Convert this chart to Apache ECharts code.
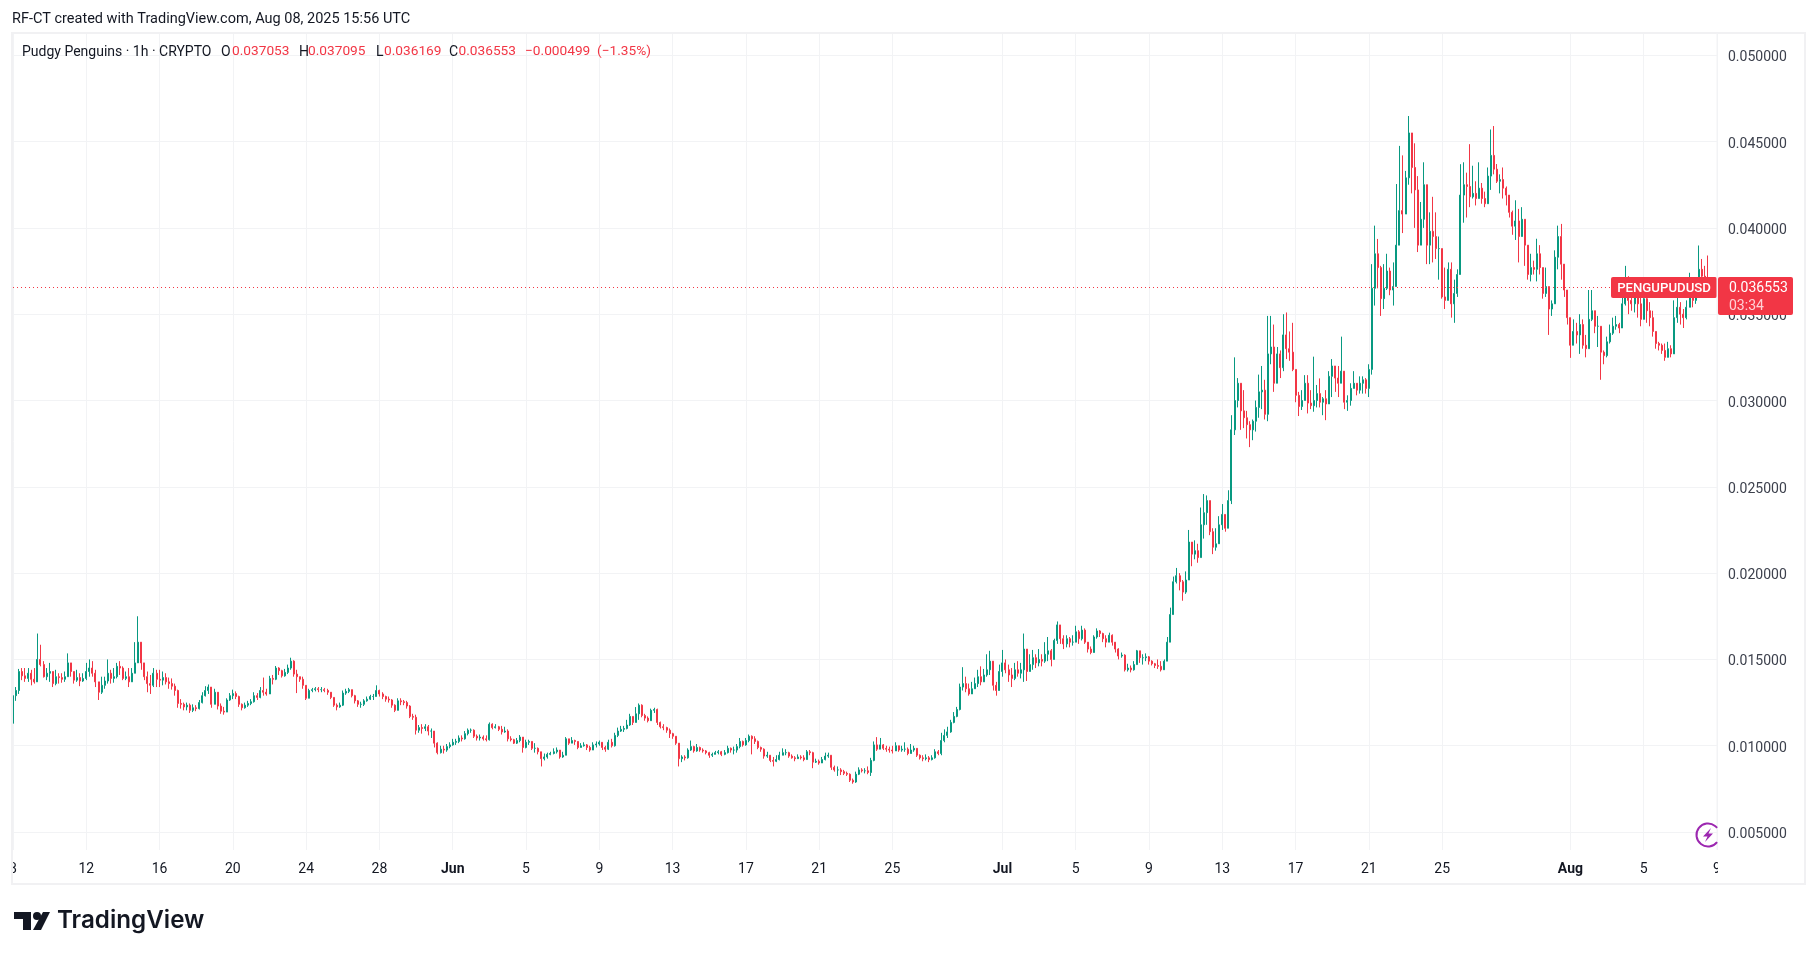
<!DOCTYPE html>
<html><head><meta charset="utf-8"><style>html,body{margin:0;padding:0;background:#fff}#c{width:1817px;height:957px}</style>
<script src="https://cdn.jsdelivr.net/npm/echarts@6/dist/echarts.min.js"></script></head><body><div id="c"></div>
<script>
// 4-hour candles, unit = 0.00001 USD; one line = 4 days
const closes=[
1290,1320,1430,1405,1390,1420,1385,1370,1500,1470,1400,1420,1430,1360,1400,1395,1385,1400,1480,1430,1380,1395,1375,1390,
1430,1450,1420,1370,1310,1350,1375,1420,1390,1400,1460,1450,1390,1400,1370,1420,1480,1600,1480,1400,1360,1350,1420,1385,
1380,1395,1370,1360,1345,1320,1245,1240,1225,1235,1205,1220,1215,1250,1290,1320,1340,1240,1310,1230,1200,1195,1265,1290,
1302,1285,1240,1220,1235,1245,1255,1290,1280,1320,1310,1300,1390,1385,1450,1435,1405,1425,1450,1490,1415,1400,1385,1350,
1275,1320,1325,1330,1325,1325,1320,1310,1280,1235,1225,1235,1305,1315,1325,1290,1260,1240,1240,1260,1270,1285,1285,1320,
1300,1285,1270,1265,1235,1205,1260,1255,1250,1230,1170,1165,1090,1105,1100,1110,1085,1085,1015,960,980,975,995,1005,
1020,1025,1045,1040,1070,1090,1090,1055,1045,1050,1040,1035,1125,1105,1110,1095,1080,1085,1040,1035,1015,1030,1050,990,
1020,1025,985,985,965,925,935,950,955,965,975,935,945,1040,1015,1030,1025,990,1000,1005,990,975,1005,1010,
1020,990,980,1020,1000,1060,1085,1095,1100,1120,1170,1135,1185,1235,1175,1160,1145,1205,1210,1135,1110,1105,1090,1070,
1055,1015,925,935,930,975,995,970,990,975,970,960,945,950,960,965,950,960,985,975,975,995,1025,1005,
1030,1055,1040,1025,990,980,940,945,915,910,920,945,960,960,940,930,925,935,930,920,965,960,905,910,
900,920,940,945,875,860,860,850,840,835,800,790,835,860,855,855,845,915,1005,980,1005,985,980,975,
970,1000,975,980,980,955,975,985,945,930,925,930,920,930,965,955,1030,1060,1080,1135,1170,1210,1340,1360,
1330,1300,1330,1360,1400,1370,1410,1440,1490,1350,1320,1430,1480,1440,1410,1390,1440,1420,1440,1560,1430,1470,1510,1480,
1500,1490,1530,1550,1500,1610,1700,1620,1590,1620,1600,1600,1660,1620,1670,1600,1560,1540,1630,1665,1650,1620,1600,1640,
1600,1560,1520,1525,1440,1450,1440,1470,1550,1510,1510,1515,1490,1475,1465,1460,1440,1490,1600,1760,1950,1985,1950,1890,
1960,2180,2110,2130,2090,2280,2350,2420,2240,2150,2170,2280,2340,2260,2420,2830,3000,3100,2940,2900,2860,2830,2880,2960,
3050,3060,2920,3270,3310,3100,3270,3190,3380,3300,3280,3180,3030,2965,3000,3100,2985,2970,3000,3040,2990,3010,2980,3140,
3200,3130,3100,3170,2990,3000,3070,3100,3060,3100,3120,3070,3180,3650,3850,3770,3590,3650,3750,3640,3660,3900,4100,4080,
4290,4550,4350,4220,3900,4050,4250,3900,3980,3950,3880,3880,3600,3580,3760,3560,3620,3730,4190,4250,4240,4180,4200,4170,
4230,4170,4140,4300,4420,4340,4270,4280,4230,4190,4090,4010,4040,3950,4050,3900,3730,3770,3760,3850,3770,3620,3660,3530,
3560,3830,3950,3790,3640,3480,3320,3400,3380,3440,3320,3300,3470,3520,3430,3430,3280,3260,3340,3390,3430,3440,3420,3560,
3680,3580,3560,3600,3560,3470,3590,3520,3480,3400,3330,3320,3290,3250,3300,3270,3480,3540,3500,3480,3540,3700,3580,3640,3760,3720,3680,3655];
const highs=[
1310,1340,1445,1450,1450,1450,1440,1450,1650,1585,1490,1450,1480,1420,1440,1420,1420,1430,1535,1470,1430,1440,1420,1420,
1480,1500,1490,1440,1360,1400,1400,1500,1440,1450,1480,1490,1460,1430,1450,1450,1600,1750,1600,1480,1430,1410,1450,1440,
1440,1430,1420,1395,1390,1360,1325,1270,1250,1250,1245,1240,1235,1265,1310,1345,1355,1340,1330,1310,1245,1225,1275,1305,
1325,1315,1290,1245,1250,1260,1270,1310,1305,1340,1395,1330,1405,1410,1462,1455,1440,1445,1470,1510,1495,1440,1400,1400,
1320,1330,1335,1340,1340,1340,1335,1330,1310,1280,1245,1250,1320,1330,1335,1325,1295,1265,1255,1270,1285,1295,1300,1350,
1325,1310,1290,1285,1270,1240,1275,1275,1265,1260,1235,1185,1180,1120,1125,1125,1120,1100,1085,1020,1000,1000,1010,1020,
1040,1040,1060,1060,1085,1100,1100,1095,1065,1065,1060,1060,1135,1130,1125,1115,1115,1110,1095,1055,1040,1045,1062,1050,
1035,1035,1025,1015,990,965,955,960,965,985,990,965,965,1050,1040,1050,1035,1020,1015,1020,1010,1000,1020,1025,
1030,1020,1000,1035,1040,1075,1105,1115,1115,1150,1185,1170,1224,1245,1240,1185,1170,1215,1220,1215,1140,1125,1110,1100,
1075,1055,1015,945,945,985,1030,1000,1010,995,985,975,965,960,970,975,970,975,1000,990,995,1010,1045,1030,
1045,1065,1060,1055,1030,995,985,965,945,935,945,965,985,980,965,950,940,950,945,945,975,975,965,925,
920,935,960,960,945,885,880,870,860,850,840,810,850,875,870,870,880,930,1025,1050,1045,1010,1000,995,
1000,1020,1000,1000,1020,990,1010,1000,985,950,945,950,940,945,980,975,1075,1095,1110,1150,1195,1225,1360,1455,
1400,1360,1370,1395,1440,1460,1445,1530,1550,1470,1370,1470,1555,1500,1470,1450,1480,1490,1480,1650,1510,1530,1555,1530,
1560,1530,1600,1630,1560,1620,1720,1690,1640,1640,1630,1640,1695,1670,1695,1680,1600,1575,1640,1680,1670,1655,1640,1655,
1645,1600,1565,1540,1530,1475,1465,1490,1555,1550,1530,1535,1520,1495,1480,1500,1490,1500,1630,1800,1980,2030,2000,1960,
2010,2250,2170,2190,2170,2380,2458,2450,2400,2260,2260,2330,2400,2340,2480,2915,3250,3130,3010,3060,2940,2880,2890,3000,
3150,3200,3120,3490,3490,3440,3310,3290,3500,3510,3400,3450,3160,3050,3060,3147,3147,3060,3254,3090,3128,3020,3060,3170,
3240,3180,3200,3370,3130,3030,3100,3170,3100,3140,3140,3130,3210,3790,4013,3936,3780,3790,3850,3770,3800,4254,4475,4420,
4330,4648,4520,4490,4300,4150,4380,4190,4090,4180,4090,3950,3800,3770,3800,3800,3700,3760,4369,4380,4320,4485,4360,4270,
4380,4260,4210,4350,4570,4590,4370,4310,4350,4240,4180,4100,4160,4110,4120,4050,3850,3850,3810,3937,3900,3760,3770,3650,
3580,3870,4013,4023,3730,3570,3470,3470,3450,3500,3470,3380,3640,3640,3480,3490,3350,3290,3370,3440,3480,3490,3450,3650,
3780,3720,3650,3620,3670,3600,3650,3600,3570,3520,3380,3340,3330,3330,3340,3320,3580,3640,3570,3530,3580,3740,3620,3690,3898,3820,3780,3840];
const lows=[
1130,1260,1300,1380,1370,1370,1350,1360,1390,1460,1395,1380,1370,1340,1350,1360,1365,1370,1400,1400,1360,1370,1345,1370,
1380,1400,1400,1340,1265,1300,1330,1360,1360,1365,1390,1410,1380,1380,1340,1390,1420,1480,1440,1380,1310,1300,1340,1340,
1340,1350,1355,1330,1325,1290,1220,1215,1205,1205,1190,1195,1200,1210,1245,1285,1300,1220,1240,1210,1185,1180,1195,1260,
1270,1270,1225,1205,1215,1225,1235,1250,1265,1275,1290,1290,1300,1355,1380,1410,1395,1400,1415,1440,1400,1305,1370,1330,
1265,1275,1310,1315,1310,1310,1310,1295,1270,1225,1205,1220,1230,1295,1305,1280,1245,1225,1220,1230,1255,1265,1265,1285,
1285,1270,1255,1250,1220,1195,1205,1235,1235,1215,1160,1150,1065,1075,1070,1085,1060,1045,990,950,955,955,965,985,
1000,1005,1015,1025,1035,1060,1075,1045,1030,1030,1030,1025,1030,1095,1100,1085,1065,1075,1025,1025,1010,1010,1020,960,
985,1005,975,960,950,880,915,925,945,950,955,925,930,945,1005,1015,1005,980,990,995,975,965,975,990,
1000,975,965,975,990,995,1050,1080,1080,1095,1115,1120,1135,1150,1165,1145,1135,1145,1190,1120,1100,1090,1075,1045,
1040,1005,880,905,915,925,970,960,965,965,960,950,930,935,950,950,940,945,955,960,950,960,985,995,
1000,1020,950,1010,980,965,925,930,905,880,905,915,945,945,930,925,910,925,920,910,920,945,870,900,
890,905,915,930,860,850,825,830,830,825,790,780,785,830,845,840,835,825,910,970,985,975,965,960,
955,985,965,965,965,945,955,965,935,920,910,915,905,915,925,945,945,1020,1045,1075,1130,1165,1205,1320,
1310,1290,1305,1330,1340,1350,1370,1400,1410,1320,1290,1330,1400,1420,1370,1340,1380,1400,1390,1370,1375,1430,1440,1450,
1460,1460,1480,1490,1460,1500,1590,1590,1560,1570,1570,1580,1600,1590,1610,1590,1540,1530,1540,1620,1630,1600,1570,1600,
1580,1540,1500,1510,1430,1430,1425,1435,1470,1480,1470,1490,1470,1465,1450,1445,1430,1440,1490,1600,1760,1940,1900,1840,
1880,1960,2040,2080,2060,2090,2200,2280,2220,2110,2130,2190,2250,2240,2260,2400,2800,2960,2830,2840,2780,2730,2770,2820,
2900,2950,2890,2880,3210,3050,3100,3130,3170,3240,3230,3170,2990,2910,2945,3040,2925,2950,2935,2960,2960,2915,2886,2980,
3020,3050,3020,3100,2950,2940,2970,3080,3030,3040,3040,3040,3020,3150,3550,3650,3490,3530,3640,3610,3550,3700,3940,3970,
4080,4250,4200,4000,3860,3950,4000,3790,3790,3800,3820,3700,3590,3530,3670,3480,3450,3600,3810,4030,4060,4120,4170,4130,
4170,4140,4120,4160,4220,4310,4260,4200,4170,4130,4060,3960,3930,3800,3970,3780,3700,3690,3730,3690,3730,3590,3600,3380,
3490,3700,3760,3700,3600,3440,3247,3330,3330,3270,3300,3250,3400,3460,3390,3310,3120,3210,3250,3330,3380,3410,3390,3430,
3550,3500,3520,3510,3480,3430,3560,3450,3430,3370,3300,3290,3270,3230,3260,3250,3280,3450,3440,3420,3470,3560,3540,3560,3670,3640,3630,3610];
const firstOpen=1130;
const lastPrice=0.036553;
const priceTicks=[0.005,0.01,0.015,0.02,0.025,0.03,0.035,0.04,0.045,0.05];
const timeTickSlots=[0,24,48,72,96,120,144,168,192,216,240,264,288,324,348,372,396,420,444,468,510,534,558];
const timeTickLabels=['8','12','16','20','24','28','Jun','5','9','13','17','21','25','Jul','5','9','13','17','21','25','Aug','5','9'];
const slotCount=559;

const UNIT=1e-5;
const candles=closes.map((c,i)=>{
  const o=i?closes[i-1]:firstOpen;
  const h=Math.max(highs[i],o,c), l=Math.min(lows[i],o,c);
  return [o*UNIT,c*UNIT,l*UNIT,h*UNIT];
});
const categories=Array.from({length:slotCount},(_,i)=>{
  const k=timeTickSlots.indexOf(i); return k<0?'':timeTickLabels[k];
});
const isTick=i=>timeTickSlots.indexOf(i)>=0;
const UP='#089981',DOWN='#f23645',GRID='#f2f3f5',BORDER='#f1f1f3',INK='#131722';
const FONT='Roboto, "Liberation Sans", sans-serif';
const txt=(text,x,y,fill,size,weight,extra)=>({type:'text',z:100,style:Object.assign({text,x,y,fill,font:(weight||'normal')+' '+size+'px '+FONT,verticalAlign:'middle',align:'left'},extra||{})});
const rect=(x,y,w,h,fill,r)=>({type:'rect',z:95,shape:{x,y,width:w,height:h,r:r||0},style:{fill}});

const chart=echarts.init(document.getElementById('c'),null,{renderer:'canvas'});
chart.setOption({
  animation:false,backgroundColor:'#ffffff',
  grid:{left:13,right:100,top:33,bottom:107,containLabel:false},
  xAxis:{type:'category',data:categories,boundaryGap:false,
    axisLine:{show:false},axisTick:{show:false},
    splitLine:{show:true,interval:(i)=>isTick(i),lineStyle:{color:GRID,width:1}},
    axisLabel:{interval:(i)=>isTick(i),margin:12,fontSize:14,fontFamily:FONT,color:INK,hideOverlap:false,showMinLabel:true,showMaxLabel:true,
      formatter:v=>/[A-Za-z]/.test(v)?'{b|'+v+'}':v,
      rich:{b:{fontWeight:'bold',fontSize:14,fontFamily:FONT,color:INK}}}},
  yAxis:{type:'value',position:'right',min:0.00396,max:0.05129,scale:true,
    axisLine:{show:false},axisTick:{show:false,customValues:priceTicks},
    splitLine:{show:true,lineStyle:{color:GRID,width:1}},
    axisLabel:{customValues:priceTicks,margin:11,fontSize:14,fontFamily:FONT,color:'#3d414d',
      formatter:v=>'{p|'+v.toFixed(6)+'}',
      rich:{p:{fontSize:14,fontFamily:FONT,color:'#3d414d',padding:[5,0,0,0]}}}},
  series:[{type:'candlestick',data:candles,barWidth:1.5,
    itemStyle:{color:UP,color0:DOWN,borderColor:UP,borderColor0:DOWN,borderWidth:1},
    markLine:{silent:true,symbol:'none',animation:false,precision:6,label:{show:false},
      lineStyle:{color:DOWN,type:[1,3],width:1},data:[{yAxis:lastPrice}]}}],
  graphic:[
    rect(0,855,11,28,'#fff'),rect(1718,855,12,28,'#fff'),
    {type:'rect',z:96,shape:{x:12,y:33,width:1793,height:851},style:{fill:'none',stroke:BORDER,lineWidth:2}},
    {type:'line',z:96,shape:{x1:1717,y1:33,x2:1717,y2:850},style:{stroke:GRID,lineWidth:1}},
    txt('RF-CT created with TradingView.com, Aug 08, 2025 15:56 UTC',12,19,INK,14.5),
    txt('Pudgy Penguins · 1h · CRYPTO',22,52,INK,14),
    txt('O',221,52,INK,14),txt('0.037053',232,52,DOWN,13.7),
    txt('H',299,52,INK,14),txt('0.037095',308,52,DOWN,13.7),
    txt('L',376,52,INK,14),txt('0.036169',384,52,DOWN,13.7),
    txt('C',449,52,INK,14),txt('0.036553',458.5,52,DOWN,13.7),
    txt('−0.000499',525,52,DOWN,13.7),txt('(−1.35%)',597,52,DOWN,13.7),
    rect(1611,277,106,21,DOWN,2),
    txt('PENGUPUDUSD',1664,288.5,'#fff',13.2,'500',{align:'center'}),
    rect(1718,277,75,38,DOWN,2),
    txt('0.036553',1729,288.5,'#fff',14),
    txt('03:34',1729,306,'#ffd0d5',14),
    {type:'arc',z:100,shape:{cx:1708,cy:835,r:11.5,startAngle:0.66,endAngle:-0.66,clockwise:true},style:{stroke:'#9c27b0',lineWidth:2,fill:'none'}},
    {type:'polygon',z:100,shape:{points:[[1711,828],[1703,836.5],[1707.5,836.5],[1705,842],[1713,833.5],[1708.5,833.5]]},style:{fill:'#9c27b0'}},
    {type:'polygon',z:100,shape:{points:[[14,912],[31,912],[31,930],[23,930],[23,919],[14,919]]},style:{fill:INK}},
    {type:'circle',z:100,shape:{cx:37,cy:916,r:4},style:{fill:INK}},
    {type:'polygon',z:100,shape:{points:[[43,912],[50,912],[41,930],[33,930]]},style:{fill:INK}},
    txt('TradingView',57,921,INK,24.2,'600',{font:'600 24.2px Inter, Roboto, sans-serif'})
  ]
});
</script></body></html>
